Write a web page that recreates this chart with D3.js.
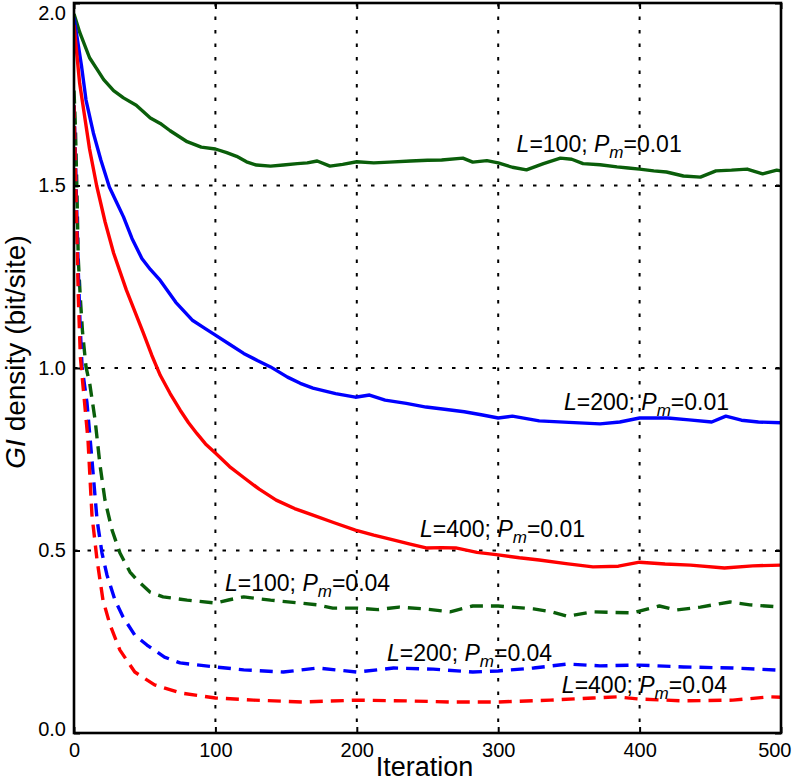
<!DOCTYPE html>
<html>
<head>
<meta charset="utf-8">
<script src="https://cdn.jsdelivr.net/npm/d3@7"></script>
<style>
  html, body { margin: 0; padding: 0; background: #fff; }
  svg { display: block; font-family: "Liberation Sans", Arial, Helvetica, sans-serif; }
</style>
</head>
<body>
<div id="chart"></div>
<script>
// ---------- data ----------
const xTicks = [0, 100, 200, 300, 400, 500];
const yTicks = [0.0, 0.5, 1.0, 1.5, 2.0];

// L=100; Pm=0.01 (green, solid)
const g01_t = [0, 4, 11, 16, 21, 28, 35, 44, 54, 61, 68, 80, 90, 100, 108, 115, 122, 129, 139, 148, 158, 165, 172, 181, 190, 200, 212, 223, 238, 250, 260, 275, 282, 292, 300, 310, 320, 332, 344, 352, 360, 372, 384, 392, 400, 410, 419, 431, 443, 454, 465, 476, 487, 497, 500];
const g01_v = [1.97, 1.92, 1.85, 1.82, 1.79, 1.76, 1.74, 1.72, 1.685, 1.67, 1.65, 1.62, 1.605, 1.60, 1.59, 1.58, 1.565, 1.556, 1.553, 1.556, 1.56, 1.562, 1.567, 1.553, 1.558, 1.565, 1.562, 1.564, 1.567, 1.569, 1.57, 1.575, 1.564, 1.568, 1.562, 1.55, 1.543, 1.56, 1.575, 1.572, 1.56, 1.557, 1.551, 1.548, 1.545, 1.54, 1.537, 1.526, 1.523, 1.54, 1.542, 1.545, 1.532, 1.542, 1.54];

// L=200; Pm=0.01 (blue, solid)
const b01_t = [0, 5.4, 8.5, 13.7, 19, 25, 30, 35, 41, 48, 54, 61, 72, 84, 92, 100, 110, 120, 130, 139, 151, 160, 169, 185, 199, 209, 220, 235, 249, 262, 276, 288, 300, 310, 329, 350, 372, 386, 400, 420, 435, 451, 461, 472, 484, 500];
const b01_v = [1.96, 1.825, 1.734, 1.644, 1.57, 1.496, 1.455, 1.414, 1.355, 1.30, 1.27, 1.24, 1.18, 1.13, 1.11, 1.09, 1.065, 1.04, 1.02, 1.003, 0.975, 0.958, 0.945, 0.93, 0.92, 0.926, 0.912, 0.903, 0.893, 0.887, 0.88, 0.872, 0.863, 0.868, 0.855, 0.851, 0.847, 0.852, 0.863, 0.863, 0.858, 0.852, 0.868, 0.857, 0.852, 0.85];

// L=400; Pm=0.01 (red, solid)
const r01_t = [0, 4, 11, 16, 22, 28, 37, 43, 49, 55, 61, 68, 75, 81, 87, 93, 100, 110, 120, 131, 143, 156, 169, 184, 199, 212, 225, 237, 249, 260, 270, 285, 300, 315, 329, 348, 367, 385, 400, 418, 436, 460, 480, 500];
const r01_v = [1.94, 1.78, 1.60, 1.50, 1.40, 1.315, 1.214, 1.155, 1.096, 1.035, 0.98, 0.93, 0.885, 0.85, 0.82, 0.792, 0.767, 0.73, 0.70, 0.668, 0.638, 0.615, 0.597, 0.576, 0.556, 0.542, 0.53, 0.518, 0.507, 0.508, 0.507, 0.495, 0.488, 0.48, 0.474, 0.464, 0.455, 0.457, 0.468, 0.463, 0.46, 0.452, 0.458, 0.46];

// L=100; Pm=0.04 (green, dashed)
const g04_t = [0, 1, 2, 3, 4.5, 6, 8.5, 11.3, 14.9, 18.4, 21.9, 26.9, 32.5, 39.6, 44.6, 53.7, 63, 80, 100, 110, 120, 139, 160, 172, 183, 200, 215, 230, 248, 266, 282, 300, 325, 338, 349, 367, 395, 414, 426, 443, 464, 478, 500];
const g04_v = [1.76, 1.66, 1.50, 1.30, 1.19, 1.10, 1.003, 0.953, 0.858, 0.734, 0.638, 0.556, 0.493, 0.441, 0.419, 0.386, 0.373, 0.364, 0.356, 0.365, 0.373, 0.364, 0.356, 0.351, 0.342, 0.342, 0.338, 0.345, 0.34, 0.332, 0.348, 0.348, 0.34, 0.332, 0.32, 0.332, 0.329, 0.348, 0.337, 0.345, 0.359, 0.351, 0.345];

// L=200; Pm=0.04 (blue, dashed)
const b04_t = [0, 1, 2, 3, 4.3, 5.7, 9.2, 12.7, 16.3, 19.8, 23.3, 29, 34.7, 43, 51.6, 64, 75, 100, 120, 148, 172, 200, 226, 254, 282, 300, 325, 349, 372, 400, 431, 466, 500];
const b04_v = [1.72, 1.58, 1.42, 1.27, 1.12, 1.003, 0.904, 0.748, 0.584, 0.493, 0.433, 0.364, 0.318, 0.268, 0.241, 0.208, 0.192, 0.181, 0.173, 0.167, 0.178, 0.167, 0.178, 0.175, 0.167, 0.17, 0.178, 0.189, 0.184, 0.186, 0.181, 0.178, 0.172];

// L=400; Pm=0.04 (red, dashed)
const r04_t = [0, 1, 2, 3, 4.5, 6.4, 9.9, 12.7, 16.3, 20.5, 25.5, 32.5, 43, 57, 75, 100, 127, 162, 200, 235, 266, 300, 337, 367, 384, 400, 431, 466, 492, 500];
const r04_v = [1.72, 1.55, 1.38, 1.2, 1.03, 0.95, 0.803, 0.597, 0.474, 0.364, 0.296, 0.227, 0.167, 0.132, 0.110, 0.096, 0.09, 0.085, 0.09, 0.088, 0.085, 0.085, 0.09, 0.096, 0.099, 0.093, 0.088, 0.09, 0.099, 0.098];

const seriesNames = ["L100_001", "L200_001", "L400_001", "L100_004", "L200_004", "L400_004"];
const seriesColors = ["#0a5e0a", "#0000ff", "#ff0000", "#0a5e0a", "#0000ff", "#ff0000"];
const seriesDashed = [false, false, false, true, true, true];
const seriesT = [g01_t, b01_t, r01_t, g04_t, b04_t, r04_t];
const seriesV = [g01_v, b01_v, r01_v, g04_v, b04_v, r04_v];

// annotation labels: L value, Pm value, anchor in data units (iteration, density)
const labelL = ["100", "200", "400", "100", "200", "400"];
const labelPm = ["0.01", "0.01", "0.01", "0.04", "0.04", "0.04"];
const labelT = [313, 346.5, 244.7, 106.8, 221.4, 345];
const labelV = [1.592, 0.885, 0.537, 0.389, 0.197, 0.110];

// ---------- layout ----------
const W = 792, H = 782;
const margin = { top: 3, right: 11, bottom: 49, left: 74 };
const iw = W - margin.left - margin.right;
const ih = H - margin.top - margin.bottom;

const svg = d3.select("#chart").append("svg").attr("width", W).attr("height", H);
const g = svg.append("g").attr("transform", `translate(${margin.left},${margin.top})`);

const x = d3.scaleLinear().domain([0, 500]).range([0, iw]);
const y = d3.scaleLinear().domain([0, 2]).range([ih, 0]);

// grid lines (dotted)
const grid = g.append("g");
grid.selectAll("line.vx").data(xTicks.filter(d => d > 0 && d < 500)).enter().append("line")
  .attr("x1", d => x(d)).attr("x2", d => x(d)).attr("y1", 0).attr("y2", ih)
  .attr("stroke", "#000").attr("stroke-width", 2).attr("stroke-dasharray", "3.5,10");
grid.selectAll("line.hy").data(yTicks.filter(d => d > 0 && d < 2)).enter().append("line")
  .attr("x1", 0).attr("x2", iw).attr("y1", d => y(d)).attr("y2", d => y(d))
  .attr("stroke", "#000").attr("stroke-width", 2).attr("stroke-dasharray", "3.5,10");

// clip
svg.append("defs").append("clipPath").attr("id", "clip")
  .append("rect").attr("x", 0).attr("y", 0).attr("width", iw).attr("height", ih);

const line = d3.line().x(d => x(d[0])).y(d => y(d[1]));
const lines = g.append("g").attr("clip-path", "url(#clip)");
seriesNames.forEach((name, i) => {
  const pts = seriesT[i].map((t, k) => [t, seriesV[i][k]]);
  lines.append("path")
    .datum(pts)
    .attr("class", name)
    .attr("d", line)
    .attr("fill", "none")
    .attr("stroke", seriesColors[i])
    .attr("stroke-width", 3.4)
    .attr("stroke-linejoin", "round")
    .attr("stroke-dasharray", seriesDashed[i] ? "13,8" : null);
});

// axes
const xAxis = d3.axisBottom(x).tickValues(xTicks).tickFormat(d3.format("d")).tickSizeInner(-6).tickSizeOuter(0).tickPadding(10);
const yAxis = d3.axisLeft(y).tickValues(yTicks).tickFormat(d3.format(".1f")).tickSizeInner(-6).tickSizeOuter(0).tickPadding(8);
const xa = g.append("g").attr("transform", `translate(0,${ih})`).call(xAxis);
const ya = g.append("g").call(yAxis);
const xTop = g.append("g").call(d3.axisTop(x).tickValues(xTicks).tickSizeInner(-6).tickSizeOuter(0).tickFormat(""));
const yRight = g.append("g").attr("transform", `translate(${iw},0)`).call(d3.axisRight(y).tickValues(yTicks).tickSizeInner(-6).tickSizeOuter(0).tickFormat(""));
[xa, ya, xTop, yRight].forEach(a => {
  a.select(".domain").remove();
  a.selectAll(".tick line").attr("stroke", "#000").attr("stroke-width", 2);
  a.selectAll(".tick text").attr("fill", "#000").attr("font-size", 20)
    .attr("font-family", "'Liberation Sans', Arial, sans-serif");
});
xa.selectAll(".tick text").attr("dy", "0.71em");
// keep the end labels inside the picture, as in the reference
xa.selectAll(".tick text").filter(d => d === 500).attr("text-anchor", "end").attr("dx", 10);
ya.selectAll(".tick text").filter(d => d === 2).attr("dy", "0.32em").attr("y", 10);
ya.selectAll(".tick text").filter(d => d === 0).attr("y", -4);

// frame
g.append("rect").attr("x", 0).attr("y", 0).attr("width", iw).attr("height", ih)
  .attr("fill", "none").attr("stroke", "#000").attr("stroke-width", 2.6);

// annotations
labelL.forEach((L, i) => {
  const t = g.append("text")
    .attr("x", x(labelT[i])).attr("y", y(labelV[i]))
    .attr("font-size", 23).attr("fill", "#000");
  t.append("tspan").attr("font-style", "italic").text("L");
  t.append("tspan").text("=" + L + "; ");
  t.append("tspan").attr("font-style", "italic").text("P");
  t.append("tspan").attr("font-style", "italic").attr("font-size", 17).attr("dy", 6).text("m");
  t.append("tspan").attr("dy", -6).text("=" + labelPm[i]);
});

// axis titles
svg.append("text")
  .attr("x", margin.left + x(250) - 3).attr("y", 776)
  .attr("text-anchor", "middle").attr("font-size", 27).attr("fill", "#000")
  .text("Iteration");

const yl = svg.append("text")
  .attr("transform", `translate(25,352) rotate(-90)`)
  .attr("text-anchor", "middle").attr("font-size", 28).attr("fill", "#000");
yl.append("tspan").attr("font-style", "italic").text("GI");
yl.append("tspan").text(" density (bit/site)");
</script>
</body>
</html>
